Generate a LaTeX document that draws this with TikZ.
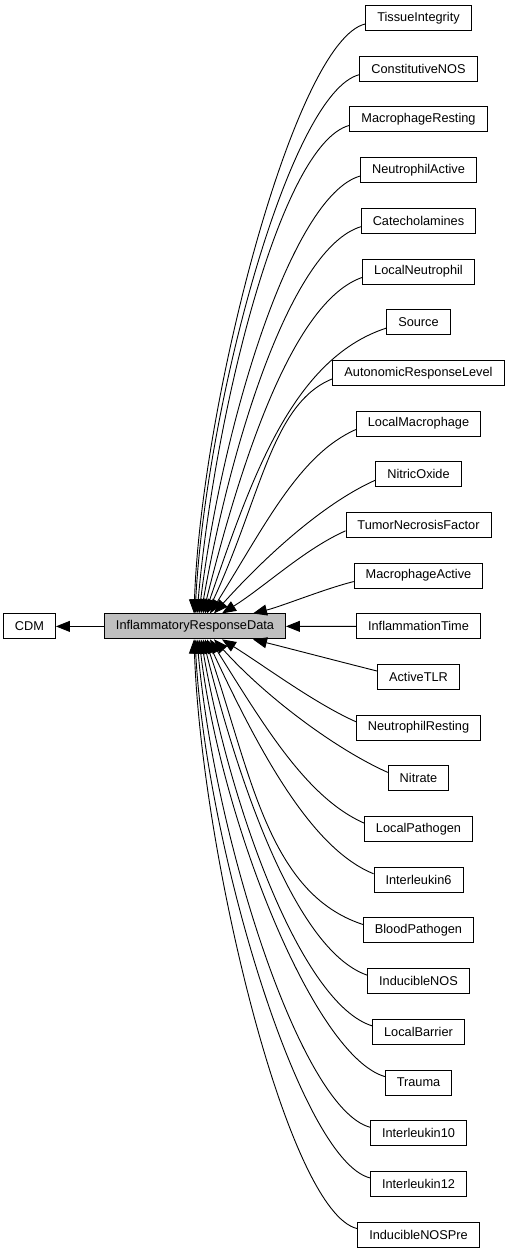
\documentclass[tikz,border=0pt]{standalone}
\usepackage{fontspec}
\setmainfont{Liberation Sans}
\usetikzlibrary{arrows.meta}
\begin{document}
\begin{tikzpicture}[x=1pt,y=1pt,
  box/.style={draw=black, line width=0.9pt, fill=white, minimum height=25pt,
    inner xsep=11.5pt, inner ysep=0pt, font=\fontsize{12.75pt}{15pt}\selectfont},
  mainbox/.style={box, fill=black!25},
  edge/.style={draw=black, line width=0.9pt, -{Triangle[length=14pt,width=11pt]}}]
\useasboundingbox (0,0) rectangle (509,-1253);
\node[mainbox] (main) at (195,-626.4) {InflammatoryResponseData};
\node[box] (cdm) at (29.5,-626.4) {CDM};
\foreach \name [count=\i from 0] in {TissueIntegrity, ConstitutiveNOS, MacrophageResting,
  NeutrophilActive, Catecholamines, LocalNeutrophil, Source, AutonomicResponseLevel,
  LocalMacrophage, NitricOxide, TumorNecrosisFactor, MacrophageActive, InflammationTime,
  ActiveTLR, NeutrophilResting, Nitrate, LocalPathogen, Interleukin6, BloodPathogen,
  InducibleNOS, LocalBarrier, Trauma, Interleukin10, Interleukin12, InducibleNOSPre}
  \node[box] (n\i) at (418.5,{-18-50.69*\i}) {\name};
\draw[edge] (main) -- (cdm);
\draw[edge] (n12) -- (main);
\foreach \k/\tx/\oa/\od/\ia/\id in {
  1/58/194/30/14/30,
  2/27/204/45/32/50,
  3/19/204/55/48/80,
  4/15/204/62/58/105,
  5/12/202/66/65/128,
  6/10/198/100/71/140,
  7/8/199/72/76/163,
  8/6/197/72/80/178,
  9/4/196/72/83/188,
  10/2/195/72/85/198,
  11/0/194/72/87/206,
  12/-1/193/72/88/213}{
  \pgfmathtruncatemacro\up{12-\k}
  \pgfmathtruncatemacro\dn{12+\k}
  \draw[edge] ([yshift=7pt]n\up.south west) to[out=\oa, in=\ia, out distance=\od pt, in distance=\id pt] ([xshift=\tx pt]main.north);
  \draw[edge] ([yshift=-7pt]n\dn.north west) to[out=-\oa, in=-\ia, out distance=\od pt, in distance=\id pt] ([xshift=\tx pt]main.south);
}
\end{tikzpicture}
\end{document}
